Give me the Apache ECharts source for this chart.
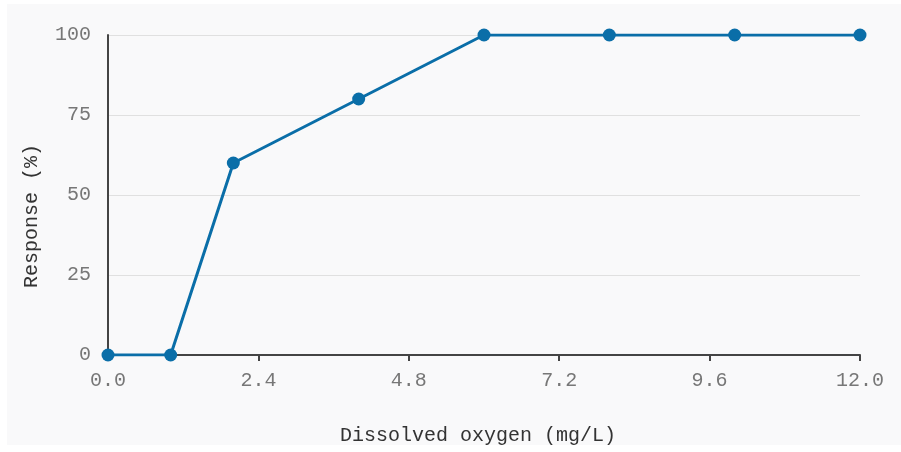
<!DOCTYPE html>
<html>
<head>
<meta charset="utf-8">
<script src="https://cdn.jsdelivr.net/npm/echarts@6/dist/echarts.min.js"></script>
<style>
html,body{margin:0;padding:0;background:#ffffff;}
#bg{position:absolute;left:7px;top:4px;width:894px;height:441px;background:#f9f9fa;}
#chart{position:absolute;left:0;top:0;width:901px;height:452px;}
</style>
</head>
<body>
<div id="bg"></div>
<div id="chart"></div>
<script>
var oxygen = [0, 1, 2, 4, 6, 8, 10, 12];
var response = [0, 0, 60, 80, 100, 100, 100, 100];
var xTicks = [0, 2.4, 4.8, 7.2, 9.6, 12.0];
var yTicks = [0, 25, 50, 75, 100];
var xTitle = 'Dissolved oxygen (mg/L)';
var yTitle = 'Response (%)';

var chart = echarts.init(document.getElementById('chart'), null, {renderer: 'canvas'});
var mono = '"Liberation Mono", "DejaVu Sans Mono", monospace';
chart.setOption({
  backgroundColor: 'transparent',
  animation: false,
  grid: {left: 108, right: 41, top: 35, bottom: 97},
  xAxis: {
    type: 'value',
    min: xTicks[0], max: xTicks[xTicks.length - 1], interval: 2.4,
    name: xTitle, nameLocation: 'middle', nameGap: 71,
    nameTextStyle: {fontFamily: mono, fontSize: 20, color: '#333', padding: [0, 12, 0, 0]},
    axisLine: {show: true, lineStyle: {color: '#444', width: 2}},
    axisTick: {show: true, length: 6, lineStyle: {color: '#444', width: 2}},
    splitLine: {show: false},
    axisLabel: {fontFamily: mono, fontSize: 20, color: '#777', margin: 16,
      formatter: function (v) { return v.toFixed(1); }}
  },
  yAxis: {
    type: 'value',
    min: yTicks[0], max: yTicks[yTicks.length - 1], interval: 25,
    name: yTitle, nameLocation: 'middle', nameGap: 66,
    nameTextStyle: {fontFamily: mono, fontSize: 20, color: '#333', padding: [0, 42, 0, 0]},
    axisLine: {show: true, lineStyle: {color: '#444', width: 2}},
    axisTick: {show: false},
    splitLine: {show: true, lineStyle: {color: '#e0e0e0', width: 1}},
    axisLabel: {fontFamily: mono, fontSize: 20, color: '#777', margin: 17}
  },
  series: [{
    type: 'line',
    data: oxygen.map(function (x, i) { return [x, response[i]]; }),
    symbol: 'circle', symbolSize: 13,
    lineStyle: {color: '#0a6ea8', width: 3},
    itemStyle: {color: '#0a6ea8'}
  }]
});
</script>
</body>
</html>
